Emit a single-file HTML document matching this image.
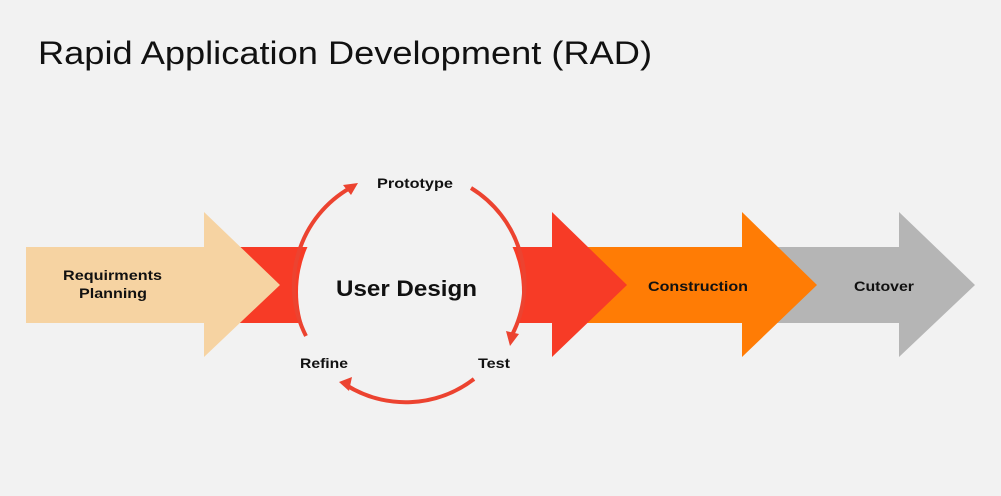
<!DOCTYPE html>
<html><head><meta charset="utf-8"><style>
html,body{margin:0;padding:0;background:#f2f2f2;}
svg{display:block}
</style></head><body>
<svg width="1001" height="496" viewBox="0 0 1001 496" xmlns="http://www.w3.org/2000/svg">
<rect width="1001" height="496" fill="#f2f2f2"/>
<text x="38" y="64" font-family="Liberation Sans, sans-serif" font-size="32" fill="#111" textLength="614" lengthAdjust="spacingAndGlyphs">Rapid Application Development (RAD)</text>
<polygon points="770,247 899,247 899,212 975,285 899,357 899,323 770,323" fill="#b5b5b5"/>
<polygon points="580,247 742,247 742,212 817,285 742,357 742,323 580,323" fill="#ff7c05"/>
<polygon points="240,247 552,247 552,212 627,285 552,357 552,323 240,323" fill="#f73b26"/>
<polygon points="26,247 204,247 204,212 280,285 204,357 204,323 26,323" fill="#f6d3a2"/>
<circle cx="410" cy="292" r="112" fill="#f2f2f2"/>
<g fill="none" stroke="#ec4330" stroke-width="4">
<path d="M306,336 A112,112 0 0 1 350,188"/>
<path d="M471,188 A112,112 0 0 1 512,335"/>
<path d="M474,379 A112,112 0 0 1 346,385"/>
</g>
<g fill="#ec4330">
<polygon points="358,183 343,185 351,195"/>
<polygon points="510,346 506,331 519,334"/>
<polygon points="339,382 352,377 349,391"/>
</g>
<g font-family="Liberation Sans, sans-serif" font-weight="bold" fill="#111">
<text x="377" y="188" font-size="14" textLength="76" lengthAdjust="spacingAndGlyphs">Prototype</text>
<text x="336" y="296" font-size="22" textLength="141" lengthAdjust="spacingAndGlyphs">User Design</text>
<text x="300" y="368" font-size="14" textLength="48" lengthAdjust="spacingAndGlyphs">Refine</text>
<text x="478" y="368" font-size="14" textLength="32" lengthAdjust="spacingAndGlyphs">Test</text>
<text x="63" y="280" font-size="14" textLength="99" lengthAdjust="spacingAndGlyphs">Requirments</text>
<text x="79" y="298" font-size="14" textLength="68" lengthAdjust="spacingAndGlyphs">Planning</text>
<text x="648" y="291" font-size="14" textLength="100" lengthAdjust="spacingAndGlyphs">Construction</text>
<text x="854" y="291" font-size="14" textLength="60" lengthAdjust="spacingAndGlyphs">Cutover</text>
</g>
</svg>
</body></html>
